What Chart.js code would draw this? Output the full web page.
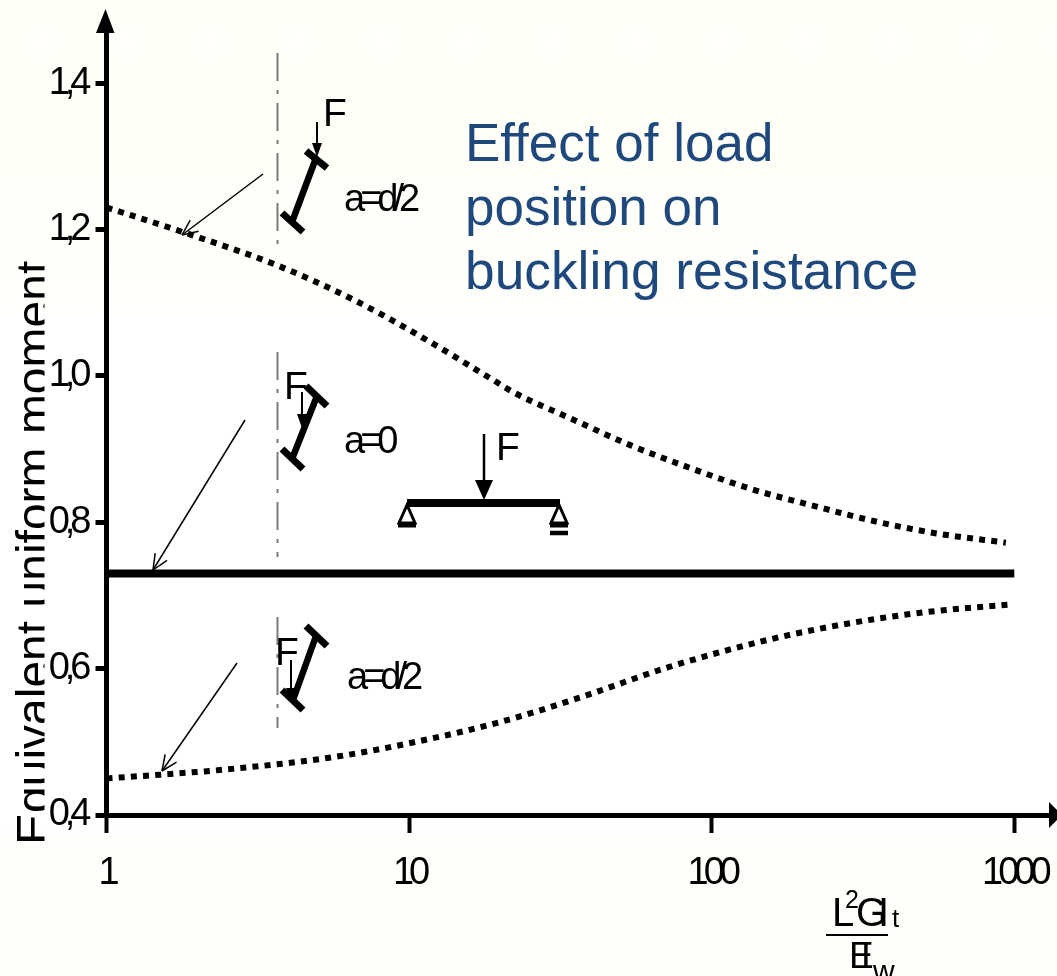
<!DOCTYPE html>
<html>
<head>
<meta charset="utf-8">
<style>
html,body{margin:0;padding:0;width:1057px;height:976px;overflow:hidden;background:linear-gradient(to bottom,#fffff7 0,#fffff7 90px,#fffffb 280px,#ffffff 340px,#ffffff 825px,#fefefa 850px,#fefefa 100%);}
#pat{position:absolute;left:0;top:0;width:1057px;height:100px;opacity:.45;background-image:radial-gradient(circle at 42px 42px,#ffffff 0,#ffffff 12px,rgba(255,255,255,0) 30px);background-size:85px 85px;}
canvas{position:absolute;left:0;top:0;display:block;}
</style>
<script src="https://cdn.jsdelivr.net/npm/chart.js@4/dist/chart.umd.min.js"></script>
</head>
<body>
<div id="pat"></div>
<canvas id="c" width="1057" height="976"></canvas>
<script>
const xTicks = [1, 10, 100, 1000];
const yTicks = [0.4, 0.6, 0.8, 1.0, 1.2, 1.4];

const xAbove = [1, 1.8, 3.66, 6.4, 11, 19, 22, 34.5, 54, 85, 136, 219, 357, 567, 938];
const yAbove = [1.23, 1.196, 1.151, 1.106, 1.053, 0.994, 0.978, 0.941, 0.905, 0.874, 0.845, 0.822, 0.8, 0.784, 0.772];

const xCentre = [1, 1000];
const yCentre = [0.73, 0.73];

const xBelow = [1, 1.5, 2.6, 5.6, 10, 20, 37, 72, 156, 286, 507, 990];
const yBelow = [0.45, 0.455, 0.463, 0.479, 0.498, 0.527, 0.561, 0.602, 0.64, 0.662, 0.677, 0.688];

const zip = (xs, ys) => xs.map((x, i) => ({x, y: ys[i]}));
const FONT = '"Liberation Sans", Arial, sans-serif';

function line(ctx, x1, y1, x2, y2, w, col) {
  ctx.strokeStyle = col || '#000';
  ctx.lineWidth = w;
  ctx.beginPath(); ctx.moveTo(x1, y1); ctx.lineTo(x2, y2); ctx.stroke();
}
function tri(ctx, pts) {
  ctx.fillStyle = '#000';
  ctx.beginPath(); ctx.moveTo(pts[0], pts[1]); ctx.lineTo(pts[2], pts[3]); ctx.lineTo(pts[4], pts[5]); ctx.closePath(); ctx.fill();
}
function text(ctx, s, x, y, size, spacing, col) {
  ctx.font = size + 'px ' + FONT;
  ctx.letterSpacing = (spacing || 0) + 'px';
  ctx.fillStyle = col || '#000';
  ctx.textAlign = 'left';
  ctx.textBaseline = 'alphabetic';
  ctx.fillText(s, x, y);
  ctx.letterSpacing = '0px';
}
function thinArrow(ctx, x1, y1, x2, y2) {
  line(ctx, x1, y1, x2, y2, 1.5);
  const a = Math.atan2(y2 - y1, x2 - x1), L = 17, s = 0.42;
  line(ctx, x2, y2, x2 - L * Math.cos(a - s), y2 - L * Math.sin(a - s), 1.5);
  line(ctx, x2, y2, x2 - L * Math.cos(a + s), y2 - L * Math.sin(a + s), 1.5);
}
function iBeam(ctx, t1, t2, b1, b2, w1, w2) {
  line(ctx, t1[0], t1[1], t2[0], t2[1], 7);
  line(ctx, b1[0], b1[1], b2[0], b2[1], 7);
  line(ctx, w1[0], w1[1], w2[0], w2[1], 6.5);
}
function force(ctx, x, y1, y2) {
  line(ctx, x, y1, x, y2 - 8, 2);
  tri(ctx, [x - 5, y2 - 14, x + 5, y2 - 14, x, y2]);
}
function centreLine(ctx, y1, y2) {
  ctx.save();
  ctx.setLineDash([28, 9, 4, 9]);
  line(ctx, 277.5, y1, 277.5, y2, 2, '#7a7a7a');
  ctx.restore();
}
function support(ctx, ax) {
  ctx.strokeStyle = '#000'; ctx.lineWidth = 3;
  ctx.beginPath(); ctx.moveTo(ax, 505); ctx.lineTo(ax - 8, 523); ctx.lineTo(ax + 8, 523); ctx.closePath(); ctx.stroke();
}

const spacingPlugin = {
  id: 'spacing',
  beforeDraw(chart) { chart.ctx.letterSpacing = '-5px'; },
  beforeDatasetsDraw(chart) { chart.ctx.letterSpacing = '0px'; }
};

const arrowsPlugin = {
  id: 'sketch',
  afterDraw(chart) {
    const ctx = chart.ctx, a = chart.chartArea;
    ctx.save();
    ctx.letterSpacing = '0px';
    ctx.setLineDash([]);
    ctx.lineCap = 'butt';

    // axis arrow heads
    tri(ctx, [96, 33, 114.5, 33, 105.5, 9]);
    tri(ctx, [1049, a.bottom - 13, 1049, a.bottom + 13, 1062, a.bottom]);

    // rotated axis title, cut off by the white panel
    ctx.save();
    ctx.beginPath(); ctx.rect(0, 0, 44.5, 848); ctx.clip();
    ctx.translate(50, 845);
    ctx.rotate(-Math.PI / 2);
    text(ctx, 'Equivalent uniform moment', 0, 0, 48, 0);
    ctx.restore();

    // heading
    const blue = '#1f497d';
    text(ctx, 'Effect of load', 465, 161, 53, 0, blue);
    text(ctx, 'position on', 465, 225, 53, 0, blue);
    text(ctx, 'buckling resistance', 465, 289, 53.3, 0, blue);

    // centre lines
    centreLine(ctx, 53, 248);
    centreLine(ctx, 352, 557);
    centreLine(ctx, 617, 728);

    // leader arrows
    thinArrow(ctx, 263, 174, 182, 235);
    thinArrow(ctx, 245, 420, 153, 570);
    thinArrow(ctx, 237, 663, 162, 771);

    // tilted sections
    iBeam(ctx, [306, 151], [327, 168], [282, 213], [303, 232], [316, 158], [292, 222]);
    force(ctx, 317, 122, 157);
    text(ctx, 'F', 323, 126, 39);
    text(ctx, 'a=d/2', 344, 211, 38, -5);

    iBeam(ctx, [306, 386], [327, 406], [282, 449], [303, 469], [317, 396], [292, 459]);
    text(ctx, 'F', 284, 399, 39);
    force(ctx, 302, 392, 428);
    text(ctx, 'a=0', 344, 453, 38, -5);

    iBeam(ctx, [306, 626], [327, 646], [282, 690], [303, 710], [316, 636], [293, 700]);
    text(ctx, 'F', 275, 665, 39);
    force(ctx, 291, 660, 702);
    text(ctx, 'a=d/2', 347, 689, 38, -5);

    // simply supported beam
    line(ctx, 407, 503, 560, 503, 8);
    line(ctx, 484, 434, 484, 482, 2.5);
    tri(ctx, [475, 480, 493, 480, 484, 500]);
    text(ctx, 'F', 496, 460, 39);
    support(ctx, 407);
    support(ctx, 559);
    line(ctx, 398, 525.5, 416, 525.5, 4);
    line(ctx, 550, 525.5, 568, 525.5, 4);
    line(ctx, 550, 533, 568, 533, 4.5);

    // x-axis fraction
    text(ctx, 'L', 832, 926, 40);
    text(ctx, '2', 845, 908, 25);
    text(ctx, 'GI', 856, 926, 40, -9);
    text(ctx, 't', 892, 927, 26);
    line(ctx, 826, 935, 888, 935, 2);
    text(ctx, 'EI', 849, 968, 37, -13);
    text(ctx, 'w', 873, 981, 30);
    ctx.restore();
  }
};

function noPadding(s) { s.paddingLeft = 0; s.paddingRight = 0; s.paddingTop = 0; s.paddingBottom = 0; }

new Chart(document.getElementById('c').getContext('2d'), {
  type: 'line',
  data: {
    datasets: [
      {label: 'a = +d/2', data: zip(xAbove, yAbove), borderColor: '#000', borderWidth: 6, borderDash: [6, 6.2], pointRadius: 0, cubicInterpolationMode: 'monotone', fill: false, clip: false},
      {label: 'a = 0', data: zip(xCentre, yCentre), borderColor: '#000', borderWidth: 8, pointRadius: 0, fill: false, clip: false},
      {label: 'a = -d/2', data: zip(xBelow, yBelow), borderColor: '#000', borderWidth: 6, borderDash: [6, 6.2], pointRadius: 0, cubicInterpolationMode: 'monotone', fill: false, clip: false}
    ]
  },
  options: {
    responsive: false,
    animation: false,
    events: [],
    layout: {padding: {top: 31.8, left: 0, right: 0, bottom: 0}},
    plugins: {legend: {display: false}, title: {display: false}, tooltip: {enabled: false}},
    scales: {
      x: {
        type: 'logarithmic', min: 1, max: 1384,
        afterFit(s) { s.height = 161; noPadding(s); },
        afterBuildTicks(s) { s.ticks = xTicks.map(v => ({value: v})); },
        border: {display: true, color: '#000', width: 5},
        grid: {display: true, drawOnChartArea: false, drawTicks: true, tickLength: 18, tickWidth: 4, tickColor: '#000'},
        ticks: {color: '#000', font: {family: FONT, size: 38}, padding: 18, maxRotation: 0, autoSkip: false, callback: v => String(v)}
      },
      y: {
        type: 'linear', min: 0.4, max: 1.47,
        afterFit(s) { s.width = 106.5; noPadding(s); },
        afterBuildTicks(s) { s.ticks = yTicks.map(v => ({value: v})); },
        border: {display: true, color: '#000', width: 5},
        grid: {display: true, drawOnChartArea: false, drawTicks: true, tickLength: 11, tickWidth: 5, tickColor: '#000'},
        ticks: {color: '#000', font: {family: FONT, size: 38}, padding: 9, autoSkip: false, callback: v => v.toFixed(1).replace('.', ',')}
      }
    }
  },
  plugins: [spacingPlugin, arrowsPlugin]
});
</script>
</body>
</html>
